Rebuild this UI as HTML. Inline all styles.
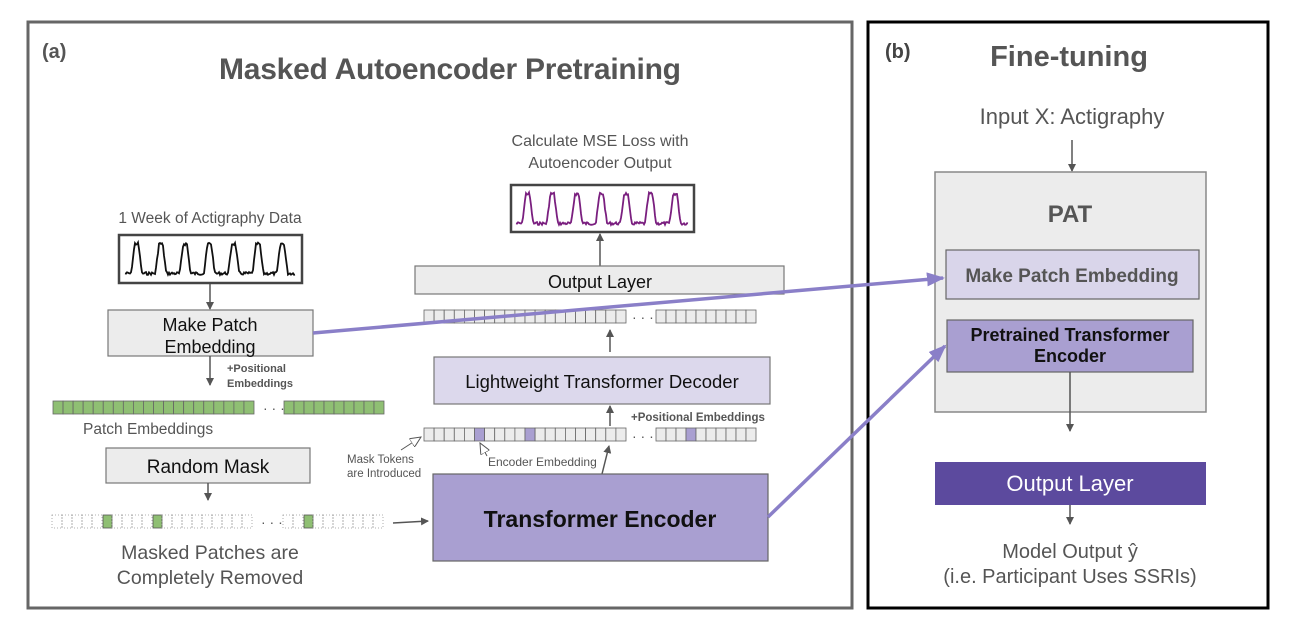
<!DOCTYPE html>
<html><head><meta charset="utf-8"><style>
html,body{margin:0;padding:0;background:#fff;}
svg{display:block;font-family:"Liberation Sans",sans-serif;}
</style></head><body>
<svg id="s" width="1296" height="636" viewBox="0 0 1296 636" xmlns="http://www.w3.org/2000/svg">
<defs>
<marker id="ah" markerWidth="8" markerHeight="8" refX="7" refY="4" orient="auto" markerUnits="userSpaceOnUse"><path d="M0,0 L8,4 L0,8 z" fill="#555"/></marker>
<marker id="ap" markerWidth="18" markerHeight="14" refX="16" refY="7" orient="auto" markerUnits="userSpaceOnUse"><path d="M0,0 L18,7 L0,14 z" fill="#8a7fc8"/></marker>
<marker id="ao" markerWidth="12" markerHeight="10" refX="11" refY="5" orient="auto" markerUnits="userSpaceOnUse"><path d="M0,0 L11,5 L0,10 z" fill="#fff" stroke="#555" stroke-width="1"/></marker>
</defs>
<rect x="28" y="22" width="824" height="586" fill="#fff" stroke="#666" stroke-width="3"/>
<rect x="868" y="22" width="400" height="586" fill="#fff" stroke="#000" stroke-width="3"/>
<text x="42" y="58" font-size="20" font-weight="bold" fill="#555">(a)</text>
<text x="450" y="79" font-size="30" font-weight="bold" fill="#555" text-anchor="middle" textLength="462">Masked Autoencoder Pretraining</text>
<text x="885" y="58" font-size="20" font-weight="bold" fill="#444">(b)</text>
<text x="1069" y="66" font-size="29" font-weight="bold" fill="#555" text-anchor="middle">Fine-tuning</text>
<text x="1072" y="124" font-size="22" fill="#555" text-anchor="middle">Input X: Actigraphy</text>
<line x1="1072" y1="140" x2="1072" y2="171" stroke="#555" stroke-width="1.5" marker-end="url(#ah)"/>
<rect x="935" y="172" width="271" height="240" fill="#ececec" stroke="#888" stroke-width="1.5"/>
<text x="1070" y="222" font-size="24" font-weight="bold" fill="#555" text-anchor="middle">PAT</text>
<rect x="946" y="250" width="253" height="49" fill="#d9d5ea" stroke="#666" stroke-width="1.2"/>
<text x="1072" y="282" font-size="19" font-weight="bold" fill="#555" text-anchor="middle">Make Patch Embedding</text>
<rect x="947" y="320" width="246" height="52" fill="#a99fd1" stroke="#666" stroke-width="1.2"/>
<text x="1070" y="341" font-size="18" font-weight="bold" fill="#111" text-anchor="middle">Pretrained Transformer</text>
<text x="1070" y="362" font-size="18" font-weight="bold" fill="#111" text-anchor="middle">Encoder</text>
<line x1="1070" y1="372" x2="1070" y2="431" stroke="#555" stroke-width="1.5" marker-end="url(#ah)"/>
<rect x="935" y="462" width="271" height="43" fill="#5c4a9e"/>
<text x="1070" y="491" font-size="22" fill="#fff" text-anchor="middle">Output Layer</text>
<line x1="1070" y1="505" x2="1070" y2="524" stroke="#555" stroke-width="1.5" marker-end="url(#ah)"/>
<text x="1070" y="558" font-size="20" fill="#555" text-anchor="middle">Model Output ŷ</text>
<text x="1070" y="583" font-size="20" fill="#555" text-anchor="middle">(i.e. Participant Uses SSRIs)</text>

<text x="210" y="223" font-size="15.5" fill="#555" text-anchor="middle">1 Week of Actigraphy Data</text>
<rect x="119" y="235" width="183" height="48" fill="#fff" stroke="#444" stroke-width="2.5"/>
<g id="w1"></g>
<line x1="210" y1="284" x2="210" y2="309" stroke="#555" stroke-width="1.5" marker-end="url(#ah)"/>
<rect x="108" y="310" width="205" height="46" fill="#ececec" stroke="#777" stroke-width="1.2"/>
<text x="210" y="331" font-size="18" fill="#111" text-anchor="middle">Make Patch</text>
<text x="210" y="353" font-size="18" fill="#111" text-anchor="middle">Embedding</text>
<line x1="210" y1="356" x2="210" y2="385" stroke="#555" stroke-width="1.5" marker-end="url(#ah)"/>
<text x="227" y="372" font-size="11" font-weight="bold" fill="#555">+Positional</text>
<text x="227" y="387" font-size="11" font-weight="bold" fill="#555">Embeddings</text>
<g id="gs"></g>
<text x="263" y="413" font-size="14" fill="#555">· · ·</text>
<text x="83" y="434" font-size="15.5" fill="#555">Patch Embeddings</text>
<rect x="106" y="448" width="204" height="35" fill="#ececec" stroke="#777" stroke-width="1.2"/>
<text x="208" y="473" font-size="19" fill="#111" text-anchor="middle">Random Mask</text>
<line x1="208" y1="483" x2="208" y2="500" stroke="#555" stroke-width="1.5" marker-end="url(#ah)"/>
<g id="ms"></g>
<text x="261" y="527" font-size="14" fill="#555">· · ·</text>
<text x="210" y="559" font-size="19.5" fill="#555" text-anchor="middle">Masked Patches are</text>
<text x="210" y="584" font-size="19.5" fill="#555" text-anchor="middle">Completely Removed</text>
<line x1="393" y1="523" x2="428" y2="521" stroke="#555" stroke-width="1.5" marker-end="url(#ah)"/>

<text x="600" y="146" font-size="16" fill="#555" text-anchor="middle">Calculate MSE Loss with</text>
<text x="600" y="168" font-size="16" fill="#555" text-anchor="middle">Autoencoder Output</text>
<rect x="511" y="185" width="183" height="47" fill="#fff" stroke="#444" stroke-width="2.5"/>
<g id="w2"></g>
<line x1="600" y1="266" x2="600" y2="234" stroke="#555" stroke-width="1.5" marker-end="url(#ah)"/>
<rect x="415" y="266" width="369" height="28" fill="#ececec" stroke="#777" stroke-width="1.2"/>
<text x="600" y="288" font-size="18" fill="#111" text-anchor="middle">Output Layer</text>
<g id="ts1"></g>
<text x="632" y="322" font-size="14" fill="#555">· · ·</text>
<line x1="610" y1="352" x2="610" y2="330" stroke="#555" stroke-width="1.5" marker-end="url(#ah)"/>
<rect x="434" y="357" width="336" height="47" fill="#dcd8ec" stroke="#777" stroke-width="1.2"/>
<text x="602" y="388" font-size="18.5" fill="#111" text-anchor="middle">Lightweight Transformer Decoder</text>
<line x1="610" y1="426" x2="610" y2="406" stroke="#555" stroke-width="1.5" marker-end="url(#ah)"/>
<text x="631" y="421" font-size="11.5" font-weight="bold" fill="#555">+Positional Embeddings</text>
<g id="ts2"></g>
<text x="632" y="441" font-size="14" fill="#555">· · ·</text>
<text x="347" y="463" font-size="11.5" fill="#555">Mask Tokens</text>
<text x="347" y="477" font-size="11.5" fill="#555">are Introduced</text>
<line x1="401" y1="450" x2="421" y2="437" stroke="#555" stroke-width="1" marker-end="url(#ao)"/>
<text x="488" y="466" font-size="12" fill="#555">Encoder Embedding</text>
<line x1="487" y1="456" x2="480" y2="443" stroke="#555" stroke-width="1" marker-end="url(#ao)"/>
<line x1="602" y1="474" x2="609" y2="446" stroke="#555" stroke-width="1.5" marker-end="url(#ah)"/>
<rect x="433" y="474" width="335" height="87" fill="#a99fd1" stroke="#666" stroke-width="1.2"/>
<text x="600" y="527" font-size="23" font-weight="bold" fill="#111" text-anchor="middle">Transformer Encoder</text>

<line x1="313" y1="333" x2="943" y2="278" stroke="#8a7fc8" stroke-width="3.5" marker-end="url(#ap)"/>
<line x1="768" y1="517" x2="945" y2="346" stroke="#8a7fc8" stroke-width="3.5" marker-end="url(#ap)"/>
</svg>
<script>
var NS="http://www.w3.org/2000/svg";
function el(p,t,a){var e=document.createElementNS(NS,t);for(var k in a)e.setAttribute(k,a[k]);document.getElementById(p).appendChild(e);return e;}
function wave(id,x0,y0,w,h,col){var pts=[],n=7,pw=w/n,s=7;
for(var i=0;i<=w;i+=1){var ph=(i%pw)/pw;var y;
 if(ph<0.25)y=y0+h*0.88;else if(ph<0.4)y=y0+h*0.88-(ph-0.25)/0.15*h*0.78;else if(ph<0.55)y=y0+h*0.1;else if(ph<0.7)y=y0+h*0.1+(ph-0.55)/0.15*h*0.78;else y=y0+h*0.88;
 s=(s*9301+49297)%233280;y+=(s/233280-0.5)*3;pts.push((x0+i)+","+y.toFixed(1));}
el(id,"polyline",{points:pts.join(" "),fill:"none",stroke:col,"stroke-width":"1.8"});}
wave("w1",125,240,170,38,"#111");
wave("w2",516,190,172,38,"#7a1f7f");
function strip(id,x,y,n,cw,h,fill,sp){for(var i=0;i<n;i++){var f=(sp&&sp.indexOf(i)>=0)?"#a99fd1":fill;el(id,"rect",{x:x+i*cw,y:y,width:cw,height:h,fill:f,stroke:"#666","stroke-width":"0.8"});}}
strip("gs",53,401,20,10.05,13,"#8fbf73");
strip("gs",284,401,10,10,13,"#8fbf73");
strip("ts1",424,310,20,10.1,13,"#ececec");
strip("ts1",656,310,10,10,13,"#ececec");
strip("ts2",424,428,20,10.1,13,"#ececec",[5,10]);
strip("ts2",656,428,10,10,13,"#ececec",[3]);
function mstrip(x,n,g){for(var i=0;i<n;i++){var xx=x+i*10;if(g.indexOf(i)>=0)el("ms","rect",{x:xx+1,y:515,width:9,height:13,fill:"#8fbf73",stroke:"#555","stroke-width":"0.8"});else el("ms","rect",{x:xx,y:515,width:10,height:13,fill:"none",stroke:"#999","stroke-width":"0.8","stroke-dasharray":"1,2"});}}
mstrip(52,20,[5,10]);
mstrip(283,10,[2]);
</script>
</body></html>
